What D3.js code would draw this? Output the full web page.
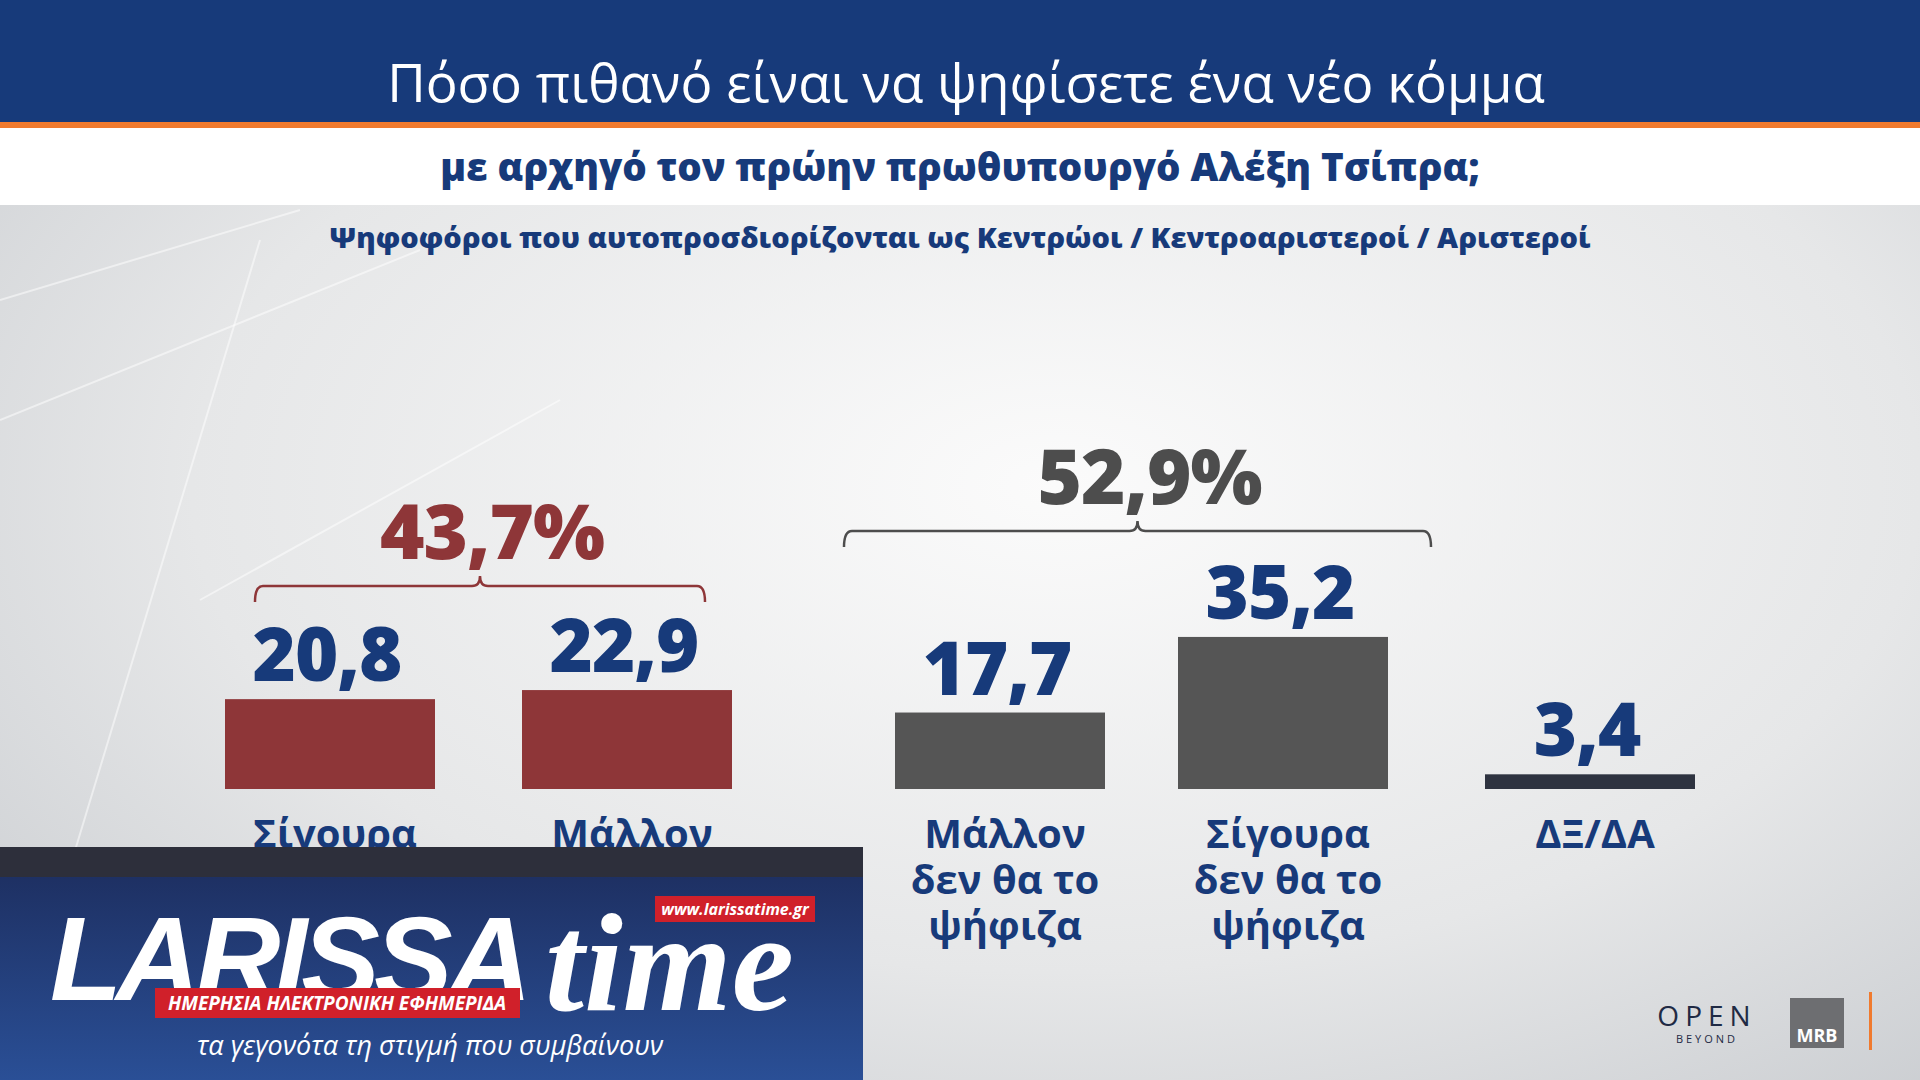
<!DOCTYPE html>
<html><head><meta charset="utf-8">
<script src="https://cdn.jsdelivr.net/npm/d3@7"></script>
<style>body{margin:0;overflow:hidden}svg{display:block}</style>
</head><body>
<svg id="c" width="1920" height="1080"></svg>
<script>
var categories = [["Σίγουρα"], ["Μάλλον"], ["Μάλλον", "δεν θα το", "ψήφιζα"], ["Σίγουρα", "δεν θα το", "ψήφιζα"], ["ΔΞ/ΔΑ"]];
var values = [20.8, 22.9, 17.7, 35.2, 3.4];
var groups = [{label: "43,7%", from: 0, to: 1, color: "#8e3638"}, {label: "52,9%", from: 2, to: 3, color: "#4d4d4d"}];
var barColors = ["#8e3638", "#8e3638", "#555555", "#555555", "#2e3340"];

var svg = d3.select("#c");
var fmt = function(v){ return d3.format(".1f")(v).replace(".", ","); };

var defs = svg.append("defs");
var bg = defs.append("radialGradient").attr("id", "bg").attr("cx", "0.55").attr("cy", "0.45").attr("r", "0.75");
bg.append("stop").attr("offset", "0").attr("stop-color", "#fbfbfb");
bg.append("stop").attr("offset", "0.6").attr("stop-color", "#e6e7e8");
bg.append("stop").attr("offset", "1").attr("stop-color", "#c9ccd0");
var lg = defs.append("linearGradient").attr("id", "logo").attr("x1", 0).attr("y1", 0).attr("x2", 0).attr("y2", 1);
lg.append("stop").attr("offset", "0").attr("stop-color", "#1c2c5c");
lg.append("stop").attr("offset", "1").attr("stop-color", "#2a4f96");

svg.append("rect").attr("width", 1920).attr("height", 1080).attr("fill", "url(#bg)");
// faint streaks
[[0, 420, 420, 250], [60, 900, 260, 240], [200, 600, 560, 400], [0, 300, 300, 210]].forEach(function(l){
  svg.append("line").attr("x1", l[0]).attr("y1", l[1]).attr("x2", l[2]).attr("y2", l[3])
    .attr("stroke", "#fff").attr("stroke-opacity", 0.5).attr("stroke-width", 2);
});

// header
svg.append("rect").attr("width", 1920).attr("height", 125).attr("fill", "#173a7a");
svg.append("rect").attr("y", 122).attr("width", 1920).attr("height", 6).attr("fill", "#f07a2e");
svg.append("rect").attr("y", 128).attr("width", 1920).attr("height", 77).attr("fill", "#ffffff");
svg.append("text").attr("x", 966).attr("y", 102).attr("text-anchor", "middle")
  .attr("font-family", "Open Sans").attr("font-size", 53).attr("fill", "#fff")
  .text("Πόσο πιθανό είναι να ψηφίσετε ένα νέο κόμμα");
svg.append("text").attr("x", 960).attr("y", 181).attr("text-anchor", "middle")
  .attr("font-family", "Open Sans").attr("font-weight", 800).attr("font-size", 38.5).attr("fill", "#173a7a")
  .text("με αρχηγό τον πρώην πρωθυπουργό Αλέξη Τσίπρα;");
svg.append("text").attr("x", 960).attr("y", 248).attr("text-anchor", "middle")
  .attr("font-family", "Open Sans").attr("font-weight", 800).attr("font-size", 29).attr("fill", "#173a7a")
  .text("Ψηφοφόροι που αυτοπροσδιορίζονται ως Κεντρώοι / Κεντροαριστεροί / Αριστεροί");

// scales
var bandX = [225, 522, 895, 1178, 1485];
var bw = 210;
var y = d3.scaleLinear().domain([0, 40]).range([789, 789 - 40 * 4.32]);
var px = function(i){ return bandX[i]; };
var bracePad = [[30, -27, 106], [-51, 43, 108]];

svg.selectAll(".bar").data(values).enter().append("rect")
  .attr("x", function(d, i){ return px(i); }).attr("width", bw)
  .attr("y", function(d){ return y(d); }).attr("height", function(d){ return y(0) - y(d); })
  .attr("fill", function(d, i){ return barColors[i]; });

svg.selectAll(".val").data(values).enter().append("text")
  .attr("x", function(d, i){ return px(i) + bw / 2 - 3; }).attr("y", function(d){ return y(d) - 18; })
  .attr("text-anchor", "middle").attr("font-family", "Open Sans").attr("font-weight", 800)
  .attr("font-size", 74).attr("fill", "#173a7a").attr("letter-spacing", -1).text(fmt);

categories.forEach(function(lines, i){
  var t = svg.append("text").attr("x", px(i) + bw / 2 + 5).attr("y", 848).attr("text-anchor", "middle")
    .attr("font-family", "Open Sans").attr("font-weight", 700).attr("font-size", 40).attr("fill", "#173a7a");
  lines.forEach(function(s, k){ t.append("tspan").attr("x", px(i) + bw / 2 + 5).attr("dy", k ? 46 : 0).text(s); });
});

// braces
groups.forEach(function(g, gi){
  var x0 = px(g.from) + bracePad[gi][0], x1 = px(g.to) + bw + bracePad[gi][1];
  var top = y(Math.max(values[g.from], values[g.to])) - bracePad[gi][2];
  var b = top + 18, r = 8, cx = (x0 + x1) / 2;
  var p = d3.path();
  p.moveTo(x0, b); p.quadraticCurveTo(x0, top + 2, x0 + r, top + 2);
  p.lineTo(cx - r, top + 2); p.quadraticCurveTo(cx, top + 2, cx, top - 8);
  p.quadraticCurveTo(cx, top + 2, cx + r, top + 2);
  p.lineTo(x1 - r, top + 2); p.quadraticCurveTo(x1, top + 2, x1, b);
  svg.append("path").attr("d", p.toString()).attr("fill", "none").attr("stroke", g.color).attr("stroke-width", 2.5);
  svg.append("text").attr("x", cx + 12).attr("y", top - 25).attr("text-anchor", "middle")
    .attr("font-family", "Open Sans").attr("font-weight", 800).attr("font-size", 76)
    .attr("letter-spacing", -1).attr("fill", g.color).text(g.label);
});

// logo box
var lb = svg.append("g");
lb.append("rect").attr("x", 0).attr("y", 847).attr("width", 863).attr("height", 233).attr("fill", "url(#logo)");
lb.append("rect").attr("x", 0).attr("y", 847).attr("width", 863).attr("height", 30).attr("fill", "#2d2f3b");
lb.append("text").attr("x", 50).attr("y", 1000).attr("font-family", "Liberation Sans").attr("font-weight", 700)
  .attr("font-style", "italic").attr("font-size", 118).attr("fill", "#fff").attr("letter-spacing", -6).text("LARISSA");
lb.append("text").attr("x", 545).attr("y", 1010).attr("font-family", "Liberation Serif").attr("font-weight", 700)
  .attr("font-style", "italic").attr("font-size", 140).attr("fill", "#fff").text("time");
lb.append("rect").attr("x", 155).attr("y", 988).attr("width", 365).attr("height", 30).attr("fill", "#d0202a");
lb.append("text").attr("x", 337).attr("y", 1010).attr("text-anchor", "middle").attr("font-family", "Open Sans")
  .attr("font-weight", 700).attr("font-style", "italic").attr("font-size", 19).attr("fill", "#fff").text("ΗΜΕΡΗΣΙΑ ΗΛΕΚΤΡΟΝΙΚΗ ΕΦΗΜΕΡΙΔΑ");
lb.append("rect").attr("x", 655).attr("y", 896).attr("width", 160).attr("height", 26).attr("fill", "#d0202a");
lb.append("text").attr("x", 735).attr("y", 915).attr("text-anchor", "middle").attr("font-family", "Open Sans")
  .attr("font-weight", 700).attr("font-style", "italic").attr("font-size", 16).attr("fill", "#fff").text("www.larissatime.gr");
lb.append("text").attr("x", 430).attr("y", 1055).attr("text-anchor", "middle").attr("font-family", "Open Sans")
  .attr("font-style", "italic").attr("font-size", 27).attr("fill", "#fff").text("τα γεγονότα τη στιγμή που συμβαίνουν");

// bottom-right marks
svg.append("text").attr("x", 1707).attr("y", 1026).attr("text-anchor", "middle").attr("font-family", "Open Sans")
  .attr("font-size", 28).attr("letter-spacing", 6).attr("fill", "#1f2a44").text("OPEN");
svg.append("text").attr("x", 1707).attr("y", 1043).attr("text-anchor", "middle").attr("font-family", "Open Sans")
  .attr("font-size", 11).attr("letter-spacing", 3).attr("fill", "#1f2a44").text("BEYOND");
svg.append("rect").attr("x", 1790).attr("y", 998).attr("width", 54).attr("height", 50).attr("fill", "#6d6e71");
svg.append("text").attr("x", 1817).attr("y", 1042).attr("text-anchor", "middle").attr("font-family", "Open Sans")
  .attr("font-weight", 700).attr("font-size", 18).attr("fill", "#fff").text("MRB");
svg.append("rect").attr("x", 1869).attr("y", 992).attr("width", 3).attr("height", 58).attr("fill", "#f07a2e");
</script>
</body></html>
